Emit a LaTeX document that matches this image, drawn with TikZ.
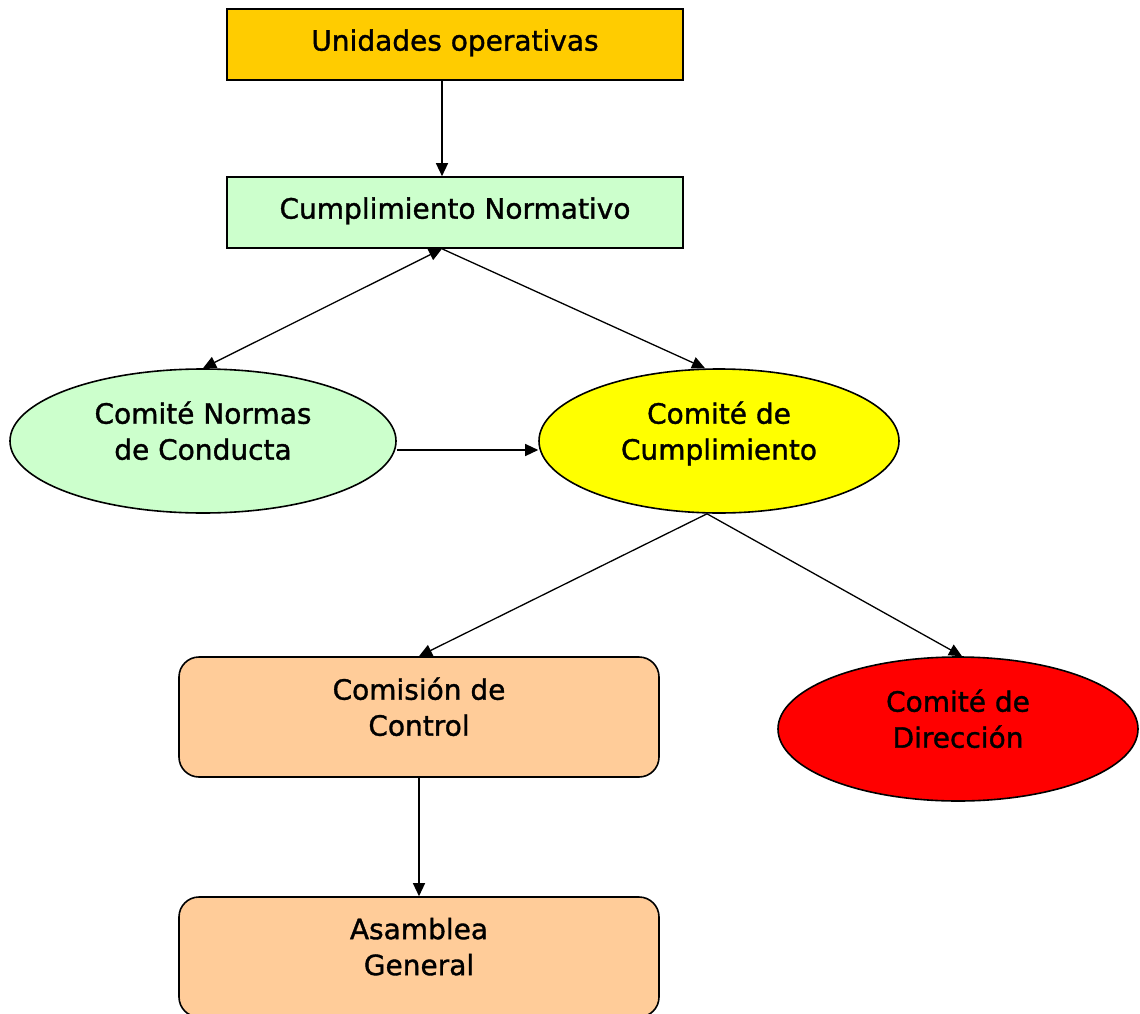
\documentclass[tikz,border=0pt]{standalone}
\usepackage{fontspec}
\setmainfont{DejaVu Sans}[BoldFont=DejaVu Sans, BoldFeatures={FakeBold=1.2}]
\usetikzlibrary{shapes.geometric,arrows.meta}
\definecolor{oro}{HTML}{FFCC00}
\definecolor{verde}{HTML}{CCFFCC}
\definecolor{giallo}{HTML}{FFFF00}
\definecolor{pesca}{HTML}{FFCC99}
\definecolor{rosso}{HTML}{FF0000}
\tikzset{
  testo/.style={font=\fontsize{28}{36}\selectfont\bfseries, align=center, inner sep=0pt},
  casella/.style={testo, draw, line width=1.6pt, rectangle, minimum width=456pt, minimum height=71pt, text depth=9pt},
  tonda/.style={testo, draw, line width=1.6pt, rectangle, rounded corners=20pt, fill=pesca, minimum width=480pt, minimum height=120pt, text depth=21pt},
  ovale/.style={testo, draw, line width=1.6pt, ellipse, minimum width=360pt, minimum height=144pt, text depth=21pt},
  freccia/.style={line width=1.3pt, -{Triangle[length=13pt,width=12pt]}},
  doppia/.style={line width=1.3pt, {Triangle[length=13pt,width=12pt]}-{Triangle[length=13pt,width=12pt]}}
}
\begin{document}
\begin{tikzpicture}[x=1pt,y=-1pt]
      \useasboundingbox (0,0) rectangle (1140,1014);
      %caselle
      \node[casella, fill=oro] (uo) at (455,44.5) {Unidades operativas};
      \node[casella, fill=verde] (cn) at (455,212.5) {Cumplimiento Normativo};
      %comitati
      \node[ovale, fill=verde, minimum width=386pt] (cnc) at (203,441) {Comité Normas\\de Conducta};
      \node[ovale, fill=giallo] (cc) at (719,441) {Comité de\\Cumplimiento};
      \node[ovale, fill=rosso] (cd) at (958,729) {Comité de\\Dirección};
      %commissione e assemblea
      \node[tonda] (cdc) at (419,717) {Comisión de\\Control};
      \node[tonda] (ag) at (419,957) {Asamblea\\General};
      %frecce
      \draw[freccia] ([xshift=-13pt]uo.south) -- ([xshift=-13pt]cn.north);
      \draw[doppia] ([xshift=-13pt]cn.south) -- (cnc.north);
      \draw[freccia] ([xshift=-13pt]cn.south) -- ([xshift=-14pt]cc.north);
      \draw[freccia] ([yshift=-9pt]cnc.east) -- ([yshift=-9pt]cc.west);
      \draw[freccia] ([xshift=-12pt]cc.south) -- (cdc.north);
      \draw[freccia] ([xshift=-12pt]cc.south) -- ([xshift=4pt]cd.north);
      \draw[freccia] (cdc.south) -- (ag.north);
\end{tikzpicture}
\end{document}
